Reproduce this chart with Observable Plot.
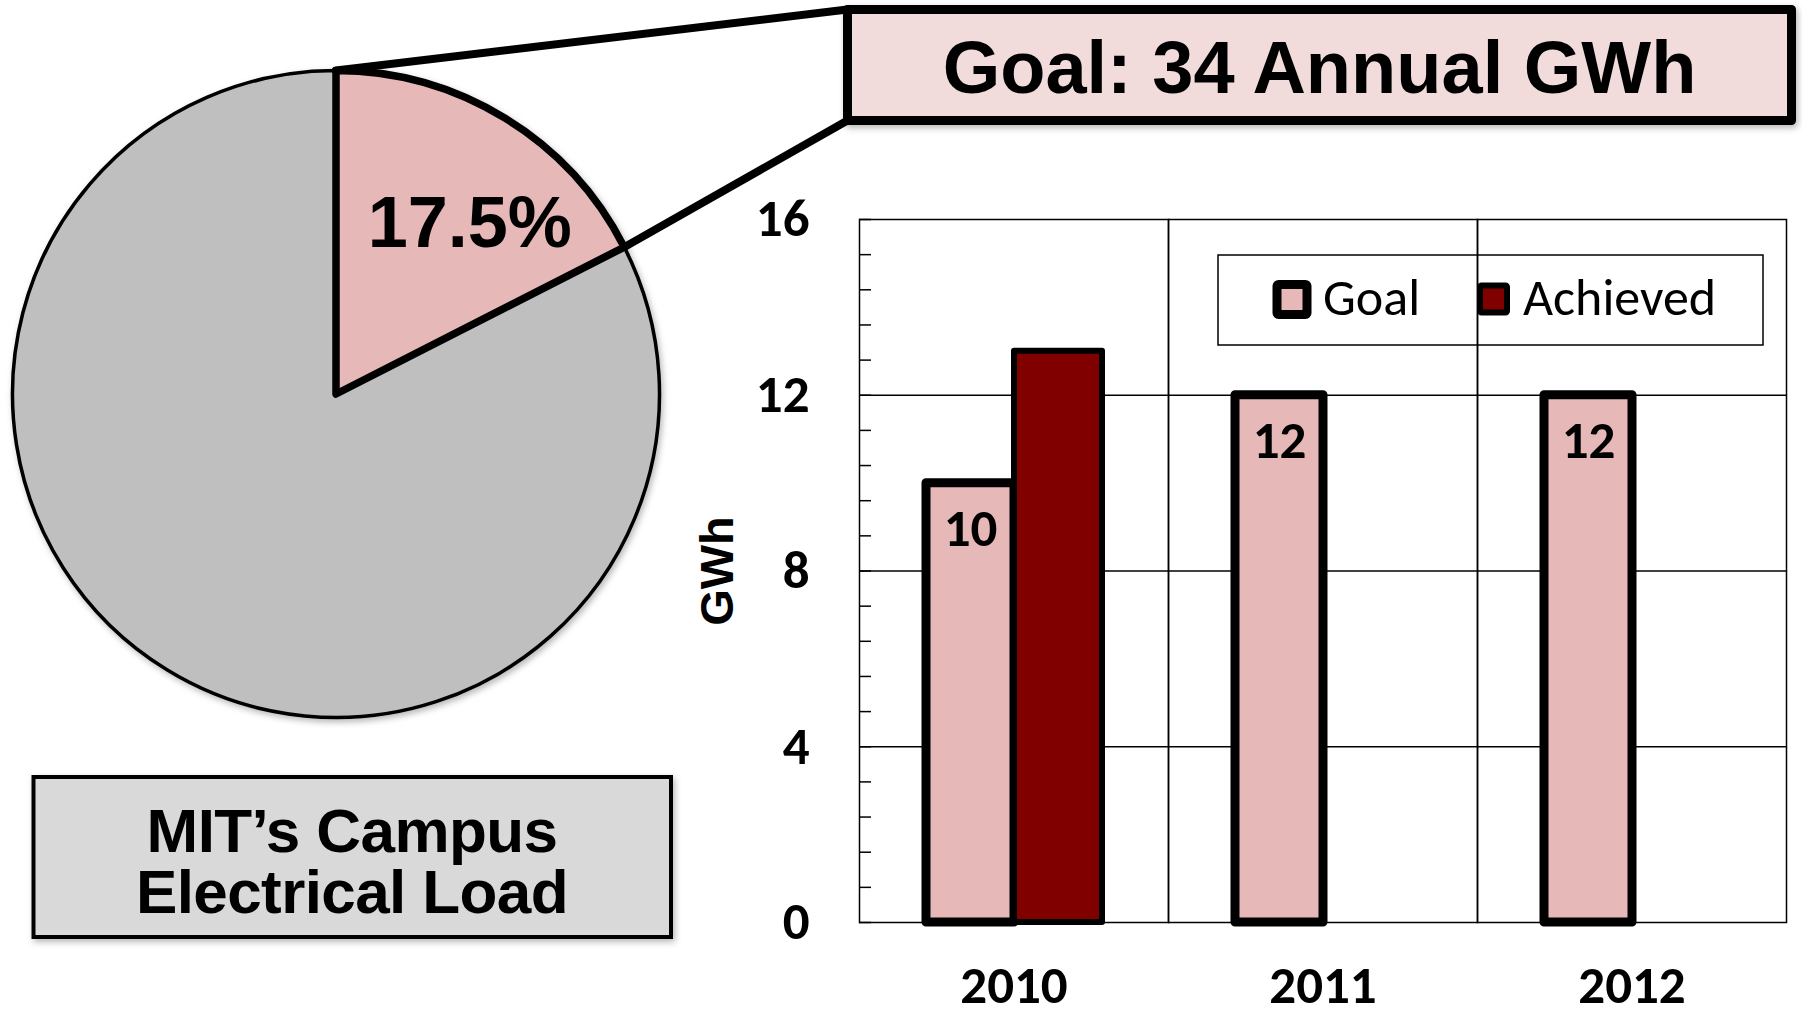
<!DOCTYPE html>
<html>
<head>
<meta charset="utf-8">
<script src="https://cdn.jsdelivr.net/npm/d3@7"></script>
<script src="https://cdn.jsdelivr.net/npm/@observablehq/plot@0.6"></script>
<style>
  html, body { margin: 0; padding: 0; background: #ffffff; }
  #wrap { position: relative; width: 1802px; height: 1010px; overflow: hidden; background: #fff; }
  #wrap > * { position: absolute; left: 0; top: 0; }
</style>
</head>
<body>
<div id="wrap"></div>
<script>
// ---------------- data ----------------
const pieKeys = ["Goal", "Rest of campus load"];
const pieShares = [17.5, 82.5];           // % of MIT campus electrical load
const pieTitle = ["MIT\u2019s Campus", "Electrical Load"];

const years = ["2010", "2011", "2012"];
const series = ["Goal", "Achieved"];
const goalValues = [10, 12, 12];          // GWh
const achievedValues = [13, null, null];  // GWh
const yTickValues = [0, 4, 8, 12, 16];
const yMinorTicks = [0, 0.8, 1.6, 2.4, 3.2, 4, 4.8, 5.6, 6.4, 7.2, 8, 8.8, 9.6, 10.4, 11.2, 12, 12.8, 13.6, 14.4, 15.2, 16];
const yLabel = "GWh";
const seriesColors = ["#e6b8b7", "#800000"];

// ---------------- layout / style constants ----------------
const W = 1802, H = 1010;
const ARIAL = "'Liberation Sans', Arial, Helvetica, sans-serif";
const CALIBRI = "Carlito, Calibri, Lato, sans-serif";
const GOAL_BOX = {x: 847.5, y: 9.5, w: 944, h: 111};
const LOAD_BOX = {x: 33.5, y: 777, w: 637.5, h: 160};
const LEGEND_BOX = {x: 1218, y: 255, w: 545, h: 90};
const SHADOW = "drop-shadow(2px 3px 3px rgba(0,0,0,0.28))";

const wrap = document.getElementById("wrap");

// ---------------- pie (Plot) ----------------
const pieData = pieKeys.map((k, i) => ({key: k, share: pieShares[i]}));
const pieArcs = d3.pie().sort(null).value(d => d.share)(pieData);
const goalArc = pieArcs[0];
const mid = (goalArc.startAngle + goalArc.endAngle) / 2;

function pieRender(index, scales) {
  const cx = scales.x(0), cy = scales.y(0), r = scales.x(1) - scales.x(0);
  const arc = d3.arc().innerRadius(0).outerRadius(r);
  const g = d3.create("svg:g");
  const pg = g.append("g").attr("transform", `translate(${cx},${cy})`).style("filter", SHADOW);
  pg.append("path").attr("d", arc(pieArcs[1]))
    .attr("fill", "#bfbfbf").attr("stroke", "#000").attr("stroke-width", 3.5);
  pg.append("path").attr("d", arc(pieArcs[0]))
    .attr("fill", seriesColors[0]).attr("stroke", "#000").attr("stroke-width", 7.5)
    .attr("stroke-linejoin", "round");
  // callout connectors from the slice to the goal box
  const a0 = goalArc.startAngle, a1 = goalArc.endAngle;
  const p0 = [cx + r * Math.sin(a0), cy - r * Math.cos(a0)];
  const p1 = [cx + r * Math.sin(a1), cy - r * Math.cos(a1)];
  g.append("line").attr("x1", p0[0]).attr("y1", p0[1])
    .attr("x2", GOAL_BOX.x).attr("y2", GOAL_BOX.y)
    .attr("stroke", "#000").attr("stroke-width", 8).attr("stroke-linecap", "round");
  g.append("line").attr("x1", p1[0]).attr("y1", p1[1])
    .attr("x2", GOAL_BOX.x).attr("y2", GOAL_BOX.y + GOAL_BOX.h)
    .attr("stroke", "#000").attr("stroke-width", 8).attr("stroke-linecap", "round");
  return g.node();
}

const piePlot = Plot.plot({
  width: W, height: H,
  marginLeft: 12.5, marginRight: W - 659.5, marginTop: 70.5, marginBottom: H - 717.5,
  style: {background: "transparent", overflow: "visible"},
  x: {domain: [-1, 1], axis: null},
  y: {domain: [-1, 1], axis: null},
  marks: [
    pieRender,
    Plot.text([pieData[0]], {
      x: () => 0.67 * Math.sin(mid), y: () => 0.67 * Math.cos(mid),
      text: d => d.share.toFixed(1) + "%",
      dx: 20, dy: 14,
      fontFamily: ARIAL, fontWeight: "bold", fontSize: 72,
      fill: "#000", letterSpacing: "-2px"
    })
  ]
});
wrap.appendChild(piePlot);

// ---------------- annotation overlay (boxes, legend) ----------------
const ov = d3.create("svg").attr("width", W).attr("height", H)
  .style("position", "absolute").style("left", 0).style("top", 0);

// goal box
ov.append("rect").attr("x", GOAL_BOX.x).attr("y", GOAL_BOX.y)
  .attr("width", GOAL_BOX.w).attr("height", GOAL_BOX.h)
  .attr("fill", "#f2dcdb").attr("stroke", "#000").attr("stroke-width", 9)
  .attr("stroke-linejoin", "round").style("filter", SHADOW);
ov.append("text").attr("x", GOAL_BOX.x + GOAL_BOX.w / 2).attr("y", 93)
  .attr("text-anchor", "middle").attr("font-family", ARIAL).attr("font-weight", "bold")
  .attr("font-size", 74).text(`Goal: ${d3.sum(goalValues)} Annual GWh`);

// campus load box
ov.append("rect").attr("x", LOAD_BOX.x).attr("y", LOAD_BOX.y)
  .attr("width", LOAD_BOX.w).attr("height", LOAD_BOX.h)
  .attr("fill", "#d9d9d9").attr("stroke", "#000").attr("stroke-width", 4)
  .style("filter", SHADOW);
pieTitle.forEach((line, i) => {
  ov.append("text").attr("x", 352).attr("y", 852 + i * 61)
    .attr("text-anchor", "middle").attr("font-family", ARIAL).attr("font-weight", "bold")
    .attr("font-size", 62).attr("letter-spacing", "-0.6px").text(line);
});

// legend
ov.append("rect").attr("x", LEGEND_BOX.x).attr("y", LEGEND_BOX.y)
  .attr("width", LEGEND_BOX.w).attr("height", LEGEND_BOX.h)
  .attr("fill", "#fff").attr("stroke", "#000").attr("stroke-width", 1.5);
const legendItems = [
  {sx: 1277, sy: 284.5, s: 30, sw: 9, tx: 1323},
  {sx: 1480, sy: 285.5, s: 27, sw: 6, tx: 1523}
];
series.forEach((name, i) => {
  const it = legendItems[i];
  ov.append("rect").attr("x", it.sx).attr("y", it.sy).attr("width", it.s).attr("height", it.s)
    .attr("rx", 1.5).attr("fill", seriesColors[i]).attr("stroke", "#000")
    .attr("stroke-width", it.sw).attr("stroke-linejoin", "round");
  ov.append("text").attr("x", it.tx).attr("y", 315)
    .attr("font-family", CALIBRI).attr("font-size", 52).text(name);
});
wrap.appendChild(ov.node());

// ---------------- grouped bar chart (Plot) ----------------
const rows = [];
years.forEach((yr, i) => {
  rows.push({year: yr, series: series[0], value: goalValues[i]});
  if (achievedValues[i] != null) rows.push({year: yr, series: series[1], value: achievedValues[i]});
});
const goalRows = rows.filter(d => d.series === series[0]);
const achievedRows = rows.filter(d => d.series === series[1]);

const barPlot = Plot.plot({
  width: W, height: H,
  marginLeft: 858, marginRight: 15, marginTop: 219, marginBottom: 88,
  style: {background: "transparent", fontFamily: CALIBRI, color: "#000"},
  fx: {domain: years, padding: 0, label: null},
  x: {domain: series, paddingInner: 0, paddingOuter: 0.746, axis: null, label: null},
  y: {domain: [0, 16], label: null},
  marks: [
    Plot.ruleY([4, 8, 12], {stroke: "#000", strokeWidth: 1.5}),
    Plot.frame({stroke: "#000", strokeWidth: 1.5}),
    Plot.axisY(yMinorTicks, {anchor: "left", tickSize: 12, dx: 12, tickFormat: () => "", strokeWidth: 1.5, label: null}),
    Plot.axisY(yTickValues, {anchor: "left", tickSize: 0, tickPadding: 50, fontSize: 53, fontWeight: "bold", fontFamily: CALIBRI, label: null}),
    Plot.axisFx({anchor: "bottom", tickSize: 0, tickPadding: 43, fontSize: 53, fontWeight: "bold", fontFamily: CALIBRI, label: null}),
    Plot.barY(goalRows, {fx: "year", x: "series", y: "value", fill: seriesColors[0], stroke: "#000", strokeWidth: 9, strokeLinejoin: "round"}),
    Plot.barY(achievedRows, {fx: "year", x: "series", y: "value", fill: seriesColors[1], stroke: "#000", strokeWidth: 6, strokeLinejoin: "round"}),
    Plot.text(goalRows, {fx: "year", x: "series", y: "value", text: d => String(d.value), dy: 46, fontSize: 53, fontWeight: "bold", fontFamily: CALIBRI, fill: "#000"}),
    Plot.text([yLabel], {fx: () => years[0], frameAnchor: "left", textAnchor: "middle", rotate: -90, dx: -142, fontFamily: ARIAL, fontWeight: "bold", fontSize: 47, fill: "#000"})
  ]
});
wrap.appendChild(barPlot);
</script>
</body>
</html>
